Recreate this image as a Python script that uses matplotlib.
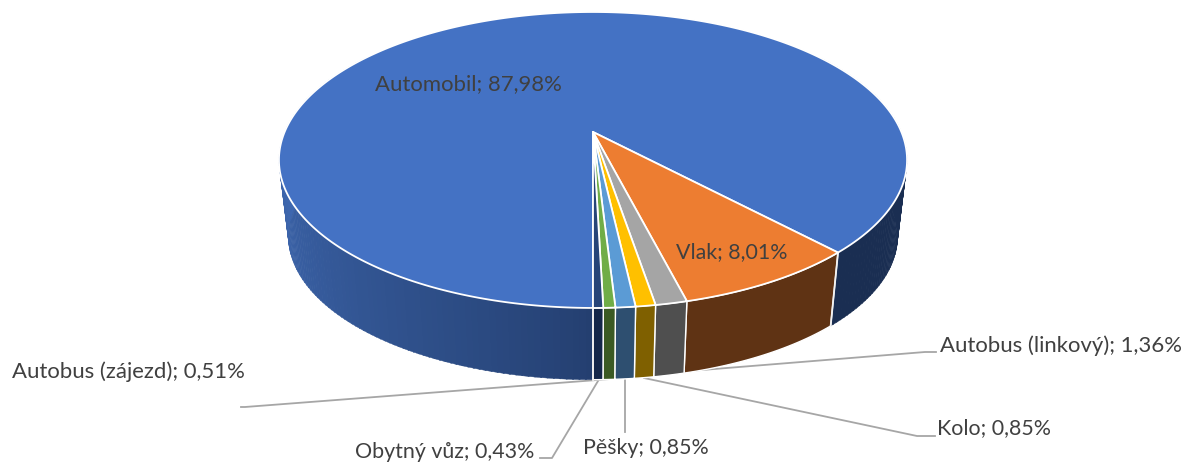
import numpy as np
import matplotlib
matplotlib.use('Agg')
import matplotlib.pyplot as plt
from matplotlib.colors import to_rgb

labels = ['Automobil', 'Vlak', 'Autobus (linkový)', 'Kolo', 'Pěšky', 'Autobus (zájezd)', 'Obytný vůz']
values = [87.98, 8.01, 1.36, 0.85, 0.85, 0.51, 0.43]
value_text = ['87,98%', '8,01%', '1,36%', '0,85%', '0,85%', '0,51%', '0,43%']
top_colors = ['#4472C4', '#ED7D31', '#A5A5A5', '#FFC000', '#5B9BD5', '#70AD47', '#264478']
side_colors = ['#1A2E52', '#5F3314', '#4F4F4F', '#7F6000', '#2E4F70', '#3B5A24', '#14274A']

plt.rcParams['font.family'] = ['Lato', 'DejaVu Sans']

fig = plt.figure(figsize=(11.84, 4.62), dpi=100)
ax = fig.add_axes([0, 0, 1, 1])
ax.set_xlim(0, 1184)
ax.set_ylim(462, 0)
ax.axis('off')


# perspective projection of the pie disc, t = degrees clockwise from straight down
def project(t, r=1.0, cx=593, cy=132, s=1.0):
    t = np.radians(t)
    x = -np.sin(t) * r
    y = -np.cos(t) * r
    w = 1 + 0.189 * y
    return cx + s * 308.4 * x / w, cy - s * 142.7 * y / w


def lower(t):
    return project(t, cx=593, cy=209, s=0.97)


def blend(c1, c2, f):
    return tuple(np.array(to_rgb(c1)) * (1 - f) + np.array(to_rgb(c2)) * f)


# slice limits, the pie starts at the bottom and runs clockwise
edges = np.concatenate([[0], np.cumsum(values) / sum(values) * 360])

# side wall
for i in range(len(values)):
    a, b = edges[i], edges[i + 1]
    if i == 0:
        # blue wall is shaded from front to left, and dark on the right
        for t0 in np.arange(a, 125, 1.0):
            tt = np.array([t0, t0 + 1.2])
            x1, y1 = project(tt)
            x2, y2 = lower(tt)
            f = min(t0 / 90, 1) ** 0.8
            ax.fill(np.r_[x1, x2[::-1]], np.r_[y1, y2[::-1]],
                    color=blend('#243F70', '#3F69B2', f), lw=0.3, zorder=2)
        for t0 in np.arange(235, b, 1.0):
            tt = np.array([t0, min(t0 + 1.2, b)])
            x1, y1 = project(tt)
            x2, y2 = lower(tt)
            ax.fill(np.r_[x1, x2[::-1]], np.r_[y1, y2[::-1]], color=side_colors[0], lw=0.3, zorder=2)
    else:
        tt = np.linspace(a, b, 30)
        x1, y1 = project(tt)
        x2, y2 = lower(tt)
        ax.fill(np.r_[x1, x2[::-1]], np.r_[y1, y2[::-1]], facecolor=side_colors[i],
                edgecolor='white', lw=1.0, zorder=3)

# white seams on the wall
for t in [0, edges[1]]:
    x1, y1 = project(t)
    x2, y2 = lower(t)
    ax.plot([x1, x2], [y1, y2], color='#F2F2F2', lw=1.3, zorder=4)

# top face
for i in range(len(values)):
    tt = np.linspace(edges[i], edges[i + 1], 400 if i == 0 else 30)
    x, y = project(tt)
    ax.fill(np.r_[593, x], np.r_[132, y], facecolor=top_colors[i], edgecolor='white',
            lw=1.3, joinstyle='round', zorder=5)

# leader lines
line_color = '#A6A6A6'
ax.plot([640, 925, 936], [375, 352, 352], color=line_color, lw=1.3, zorder=1)
ax.plot([644, 917, 935], [378, 436, 436], color=line_color, lw=1.3, zorder=1)
ax.plot([625, 625], [380, 432], color=line_color, lw=1.3, zorder=1)
ax.plot([598, 552, 540], [381, 458, 458], color=line_color, lw=1.3, zorder=1)
ax.plot([610, 245, 241], [379, 407, 407], color=line_color, lw=1.3, zorder=1)

# data labels
text_pos = [(468, 84), (732, 252), (1061, 346), (994, 428), (646, 448), (128, 372), (445, 452)]
text_size = [15.9, 15.4, 15.9, 15.4, 15.4, 15.9, 15.4]
for name, val, (x, y), size in zip(labels, value_text, text_pos, text_size):
    ax.text(x, y, f'{name}; {val}', fontsize=size, color='#404040', ha='center', va='center', zorder=6)

plt.savefig('out.png', dpi=100)
